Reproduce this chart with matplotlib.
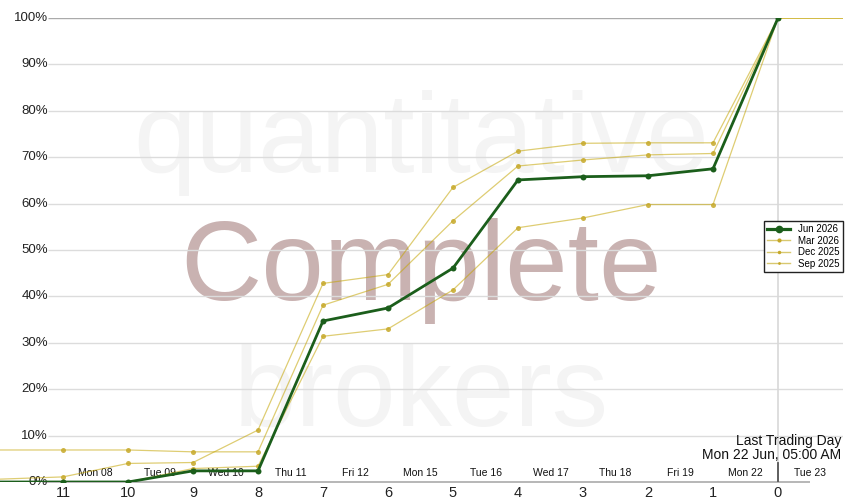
import matplotlib
matplotlib.use("Agg")
import matplotlib.pyplot as plt
from matplotlib.transforms import blended_transform_factory

plt.rcParams["font.family"] = ["Liberation Sans", "DejaVu Sans"]

# data (x = trading days left, 12 and -1 sit at the edges)
x_days = [12, 11, 10, 9, 8, 7, 6, 5, 4, 3, 2, 1, 0, -1]
jun_2026 = [0, 0, 0, 2.4, 2.4, 34.7, 37.5, 46.1, 65.1, 65.8, 66.0, 67.5, 100]
mar_2026 = [0.6, 1.1, 4.0, 4.2, 11.2, 42.8, 44.7, 63.5, 71.3, 73.0, 73.1, 73.1, 100, 100]
dec_2025 = [6.9, 6.9, 6.9, 6.5, 6.5, 38.1, 42.6, 56.3, 68.1, 69.4, 70.5, 70.8, 100, 100]
sep_2025 = [0, 0, 0, 2.9, 3.4, 31.4, 33.0, 41.4, 54.8, 56.9, 59.8, 59.8, 100, 100]
day_ticks = [11, 10, 9, 8, 7, 6, 5, 4, 3, 2, 1, 0]
day_names = ["Mon 08", "Tue 09", "Wed 10", "Thu 11", "Fri 12", "Mon 15",
             "Tue 16", "Wed 17", "Thu 18", "Fri 19", "Mon 22", "Tue 23"]
pct_ticks = [0, 10, 20, 30, 40, 50, 60, 70, 80, 90, 100]

W, H = 850, 500
fig = plt.figure(figsize=(8.5, 5), dpi=100)
ax = fig.add_axes([0, 1 - 482 / H, 843 / W, 464 / H])
ax.set_xlim(778 / 65, -1.0)
ax.set_ylim(0, 100)
for s in ax.spines.values():
    s.set_visible(False)
ax.set_yticks([])


def px2x(p):
    return (778 - p) / 65


# watermark
wm = [("quantitative", 172, "#f4f4f4"), ("Complete", 300, "#c9b2b1"), ("brokers", 426, "#f4f4f4")]
tr = blended_transform_factory(ax.transAxes, fig.transFigure)
for txt, base, col in wm:
    ax.text(0.5, 1 - base / H, txt, transform=tr, ha="center", va="baseline",
            fontsize=81, color=col, zorder=0)

# grid
ax.hlines(pct_ticks[1:-1], px2x(48), -1, colors="#dcdcdc", lw=1, zorder=1)
ax.hlines(100, px2x(48), 0, colors="#aaaaaa", lw=1, zorder=1)
ax.hlines(0, px2x(43), px2x(810), colors="#aaaaaa", lw=1.2, zorder=1, clip_on=False)
ax.axvline(0, color="#d8d8d8", lw=1.2, zorder=1)
ax.plot([0, 0], [1 - 463 / H, 1 - 482 / H], color="#555555", lw=1.3,
        transform=blended_transform_factory(ax.transData, fig.transFigure), zorder=2)

for p in pct_ticks:
    ax.text(48 / 843, p, f"{p}%", transform=blended_transform_factory(ax.transAxes, ax.transData),
            ha="right", va="center", fontsize=9.5, color="#222222", zorder=2)

# series
gold_line = "#c4a400"
gold_mark = "#c6a828"
for vals in [mar_2026, dec_2025, sep_2025]:
    ax.plot(x_days[:len(vals)], vals, color=gold_line, alpha=0.55, lw=0.9, zorder=3)
    ax.plot(x_days[1:13], vals[1:13], ls="none", marker="o", ms=3.6,
            mfc=gold_mark, mec="none", alpha=0.85, zorder=3)
ax.plot(x_days[:len(jun_2026)], jun_2026, color="#1b5e1b", lw=2.0, zorder=4)
ax.plot(x_days[1:13], jun_2026[1:13], ls="none", marker="o", ms=4.3,
        mfc="#1b5e1b", mec="none", zorder=4)

# legend
handles = [
    plt.Line2D([], [], color="#1b5e1b", lw=2.3, marker="o", ms=4.5, label="Jun 2026"),
    plt.Line2D([], [], color="#d8c870", lw=1, marker="o", ms=3, mfc=gold_mark, mec="none", label="Mar 2026"),
    plt.Line2D([], [], color="#d8c870", lw=1, marker="o", ms=2.5, mfc=gold_mark, mec="none", label="Dec 2025"),
    plt.Line2D([], [], color="#d8c870", lw=1, marker="o", ms=2, mfc=gold_mark, mec="none", label="Sep 2025"),
]
leg = ax.legend(handles=handles, loc="upper right", bbox_to_anchor=(843 / W, 1 - 221 / H),
                bbox_transform=fig.transFigure, borderaxespad=0, fontsize=7, fancybox=False,
                edgecolor="#222222", framealpha=1, handlelength=2.4, labelspacing=0.15,
                borderpad=0.35, handletextpad=0.8)
leg.get_frame().set_linewidth(1)
leg.set_zorder(5)

# x tick labels
ax.set_xticks(day_ticks)
ax.set_xticklabels([str(d) for d in day_ticks], fontsize=10.5, color="#222222")
ax.tick_params(axis="x", length=0, pad=3)

trd = blended_transform_factory(ax.transData, fig.transFigure)
for i, name in enumerate(day_names):
    ax.text(10.5 - i, 1 - 473 / H, name, transform=trd, ha="center", va="center",
            fontsize=7.5, color="#111111", zorder=2)

fig.text(841 / W, 1 - 441 / H, "Last Trading Day", ha="right", va="center", fontsize=10, color="#111111")
fig.text(841 / W, 1 - 455 / H, "Mon 22 Jun, 05:00 AM", ha="right", va="center", fontsize=10, color="#111111")

fig.savefig("out.png", dpi=100)
